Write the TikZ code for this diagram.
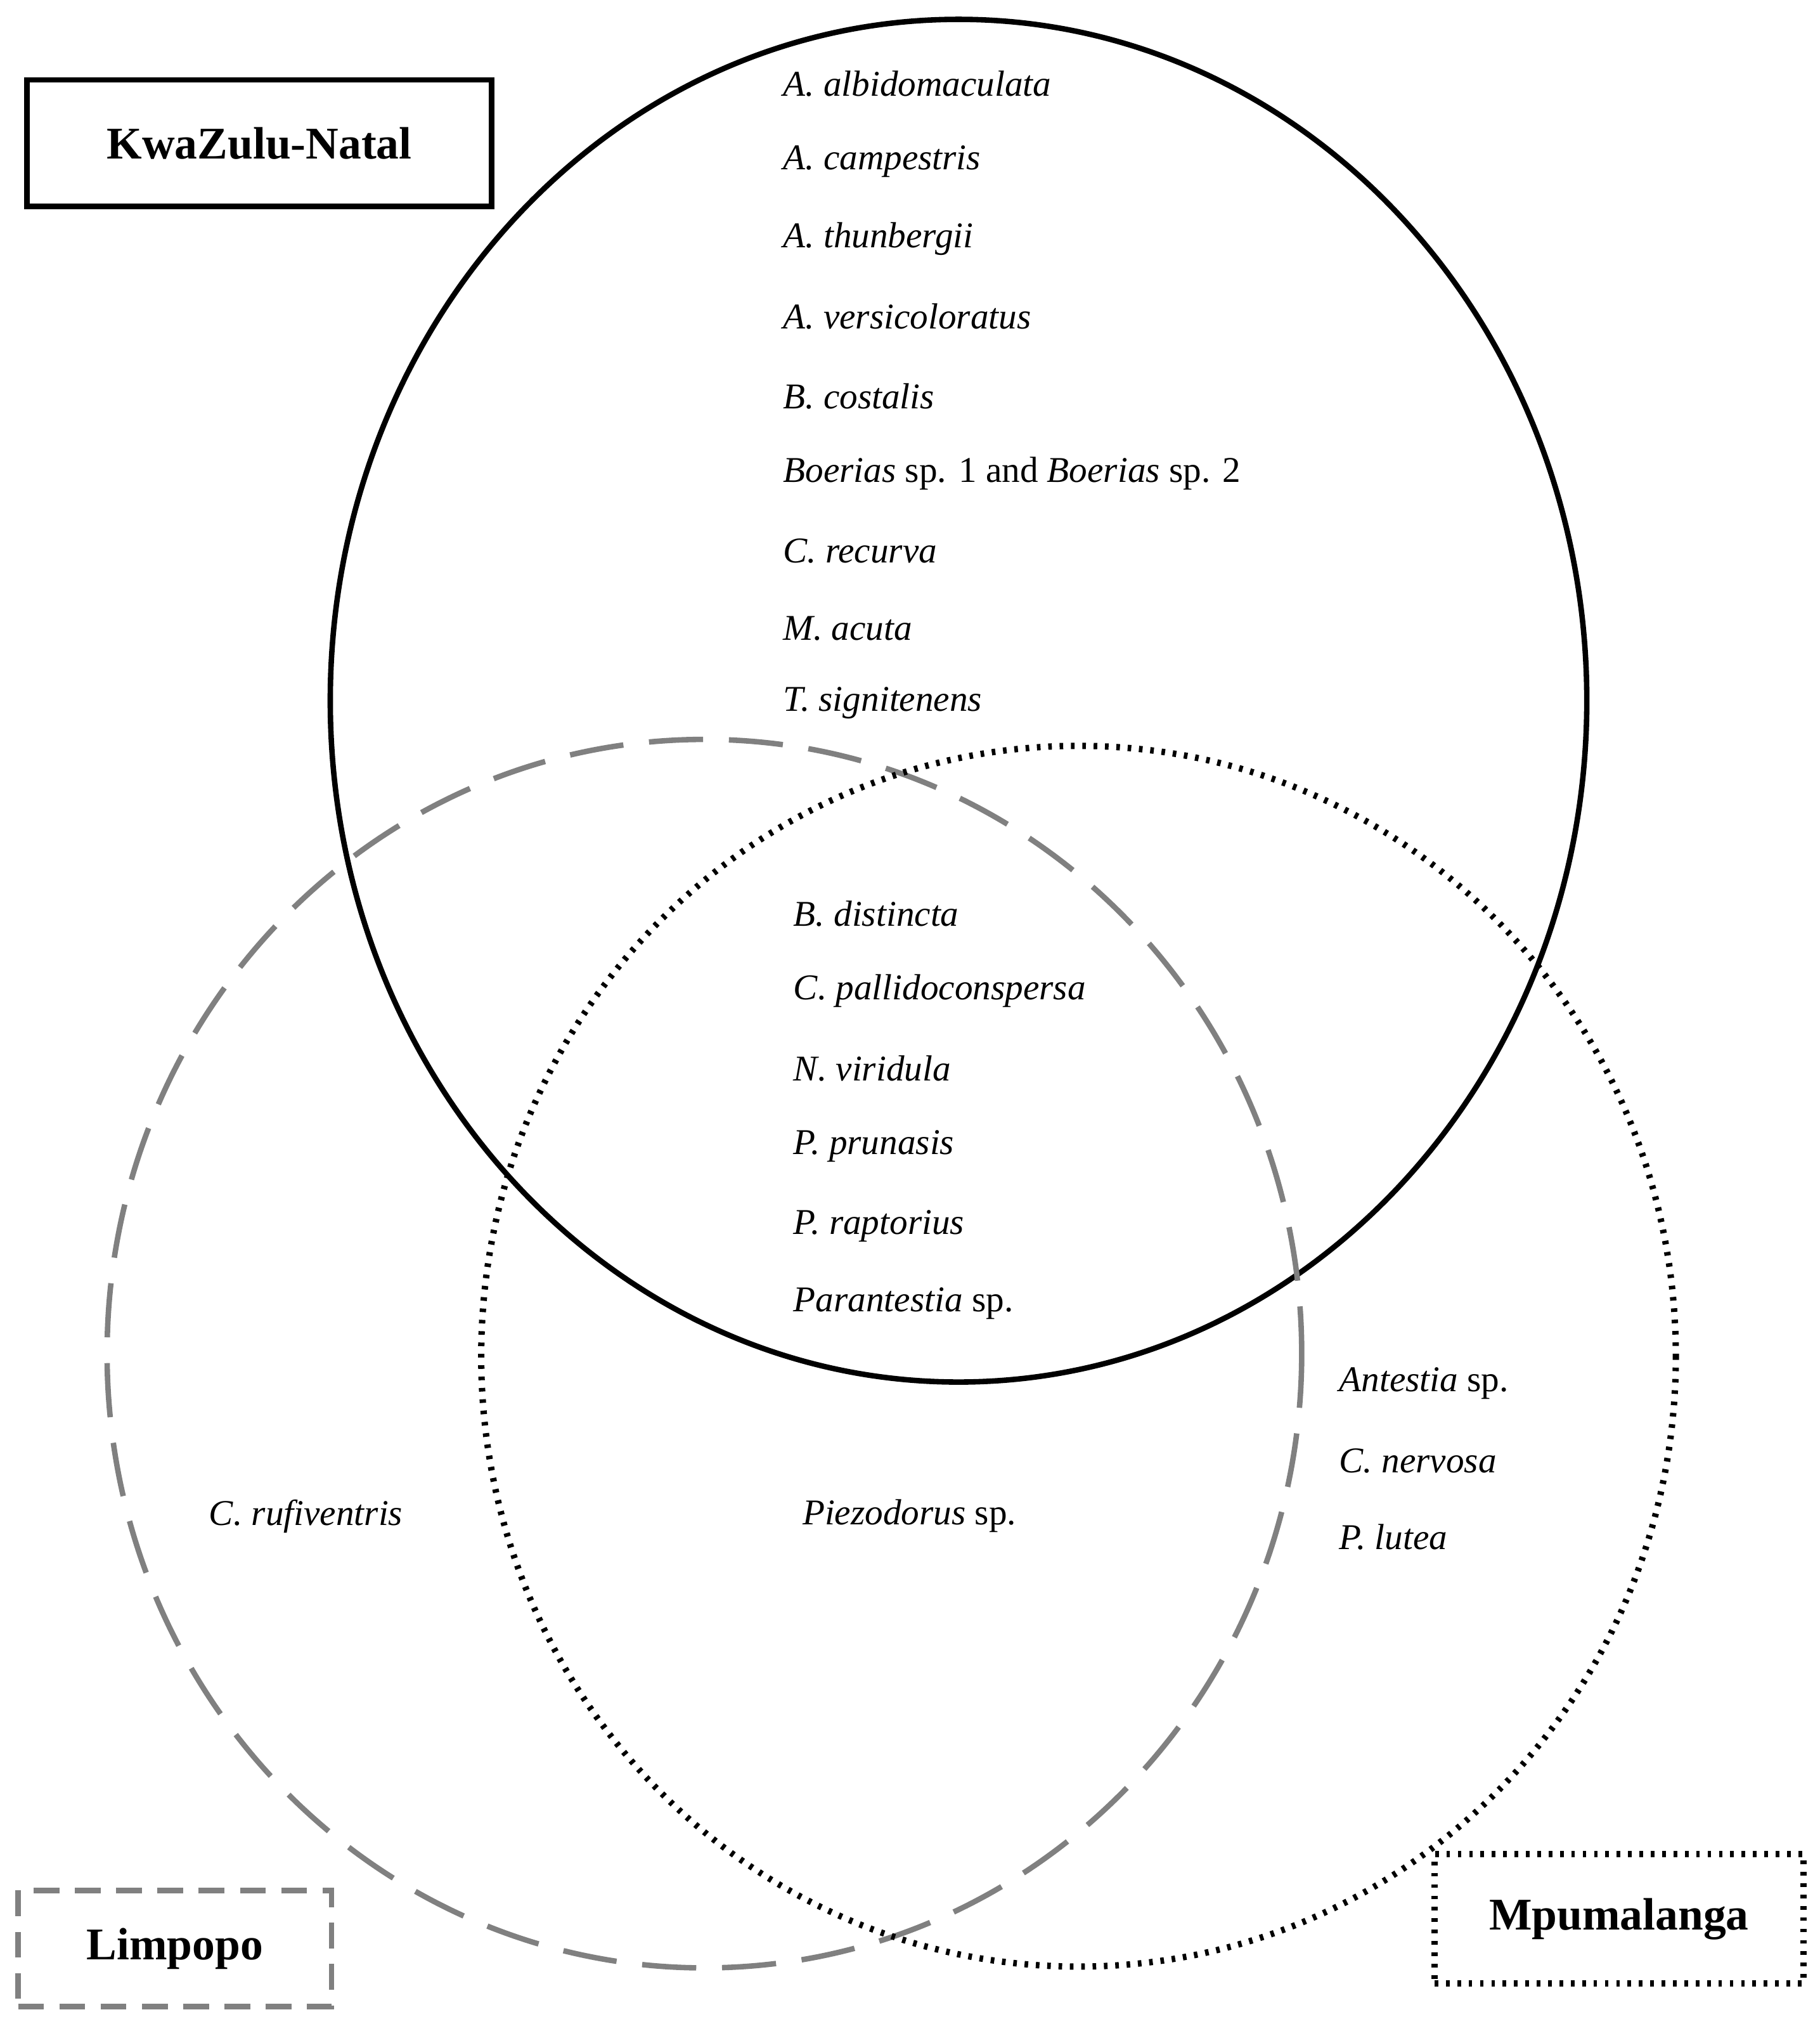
\documentclass[tikz,border=0pt]{standalone}
\usepackage{fontspec}
\setmainfont{Liberation Serif}
\begin{document}
\begin{tikzpicture}[x=0.05cm,y=-0.05cm,
  sp/.style={anchor=west,font=\fontsize{40}{44}\selectfont\itshape,inner sep=0},
  rg/.style={font=\fontsize{50}{56}\selectfont\bfseries,minimum height=4.9cm,inner sep=0},
  solidc/.style={line width=6pt,black},
  dashc/.style={line width=6pt,gray,dash pattern=on 2.1cm off 1cm},
  dotc/.style={line width=7pt,black,dash pattern=on 0.14cm off 0.3cm}]
\useasboundingbox (0,0) rectangle (1410.3,1568.5);
\draw[solidc] (743,543) ellipse [x radius=487,y radius=528];
\draw[dashc] (546,1049) ellipse [x radius=463,y radius=476];
\draw[dotc] (836,1051) ellipse [x radius=463,y radius=473];
\node[rg,draw,solidc,minimum width=18cm,text=black] (kzn) at (201,111) {KwaZulu-Natal};
\node[rg,draw,dashc,dash pattern=on 1cm off 0.6cm,minimum width=12.15cm,minimum height=4.5cm,text=black] (lim) at (135.5,1510) {Limpopo};
\node[rg,draw,dotc,minimum width=14.3cm,minimum height=5cm,text=black] (mpu) at (1255,1487) {Mpumalanga};
\node[sp] (a1) at (607,65) {A. albidomaculata};
\node[sp] (a2) at (607,125) {A. campestris};
\node[sp] (a3) at (607,185) {A. thunbergii};
\node[sp] (a4) at (607,245) {A. versicoloratus};
\node[sp] (a5) at (607,307) {B. costalis};
\node[sp] (a6) at (607,367) {Boerias \upshape sp. 1 and \itshape Boerias \upshape sp. 2};
\node[sp] (a7) at (607,427) {C. recurva};
\node[sp] (a8) at (607,487) {M. acuta};
\node[sp] (a9) at (607,545) {T. signitenens};
\node[sp] (b1) at (615,708) {B. distincta};
\node[sp] (b2) at (615,768) {C. pallidoconspersa};
\node[sp] (b3) at (615,828) {N. viridula};
\node[sp] (b4) at (615,888) {P. prunasis};
\node[sp] (b5) at (615,950) {P. raptorius};
\node[sp] (b6) at (615,1010) {Parantestia \upshape sp.};
\node[sp] (c1) at (1038,1072) {Antestia \upshape sp.};
\node[sp] (c2) at (1038,1132) {C. nervosa};
\node[sp] (c3) at (1038,1191) {P. lutea};
\node[sp] (d1) at (162,1175) {C. rufiventris};
\node[sp] (d2) at (622,1175) {Piezodorus \upshape sp.};
\end{tikzpicture}
\end{document}
